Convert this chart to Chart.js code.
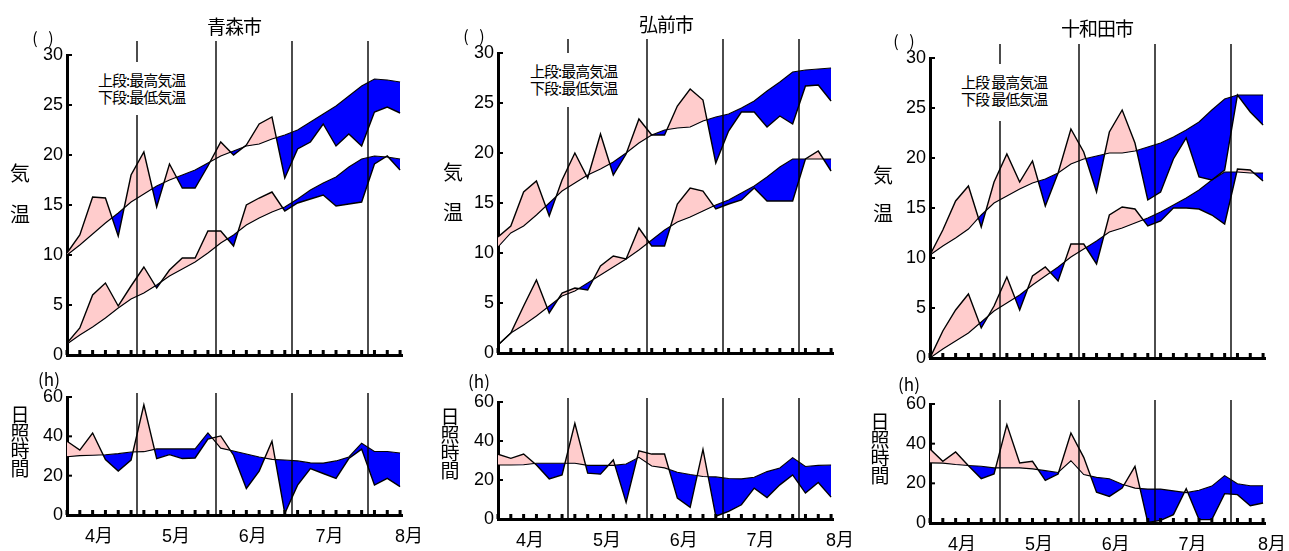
<!DOCTYPE html>
<html>
<head>
<meta charset="utf-8">
<script src="https://cdn.jsdelivr.net/npm/chart.js@4.4.0/dist/chart.umd.min.js"></script>
<style>
body { margin: 0; background: #fff; width: 1289px; height: 551px; position: relative; overflow: hidden; font-family: "Liberation Sans", "Noto Sans CJK JP", sans-serif; }
canvas { position: absolute; z-index: 1; }
.t { position: absolute; z-index: 2; white-space: nowrap; color: #000; transform: translate(-50%, -50%); font-family: "Noto Sans CJK JP", sans-serif; line-height: 1; }
.lg { position: absolute; z-index: 2; color: #000; background: #fff; font-family: "Noto Sans CJK JP", sans-serif; font-size: 15px; letter-spacing: -1px; line-height: 17px; padding-top: 9px; }
.vt { position: absolute; z-index: 2; color: #000; font-family: "Noto Sans CJK JP", sans-serif; font-size: 19px; line-height: 18px; width: 20px; text-align: center; transform: translateX(-50%); }
</style>
</head>
<body>

<canvas id="t1"></canvas>
<canvas id="s1"></canvas>
<canvas id="t2"></canvas>
<canvas id="s2"></canvas>
<canvas id="t3"></canvas>
<canvas id="s3"></canvas>

<div class="t" style="left:234px;top:25px;font-size:19px;letter-spacing:-1px">青森市</div>
<div class="t" style="left:666px;top:23px;font-size:19px;letter-spacing:-1px">弘前市</div>
<div class="t" style="left:1097px;top:27px;font-size:19px;letter-spacing:-1px">十和田市</div>

<div class="t" style="left:43px;top:37px;font-size:16px">(&nbsp;&nbsp;&nbsp;)</div>
<div class="t" style="left:474px;top:35px;font-size:16px">(&nbsp;&nbsp;&nbsp;)</div>
<div class="t" style="left:904px;top:40px;font-size:16px">(&nbsp;&nbsp;&nbsp;)</div>

<div class="t" style="left:20px;top:173px;font-size:20px">気</div>
<div class="t" style="left:20px;top:214px;font-size:20px">温</div>
<div class="t" style="left:453px;top:172px;font-size:20px">気</div>
<div class="t" style="left:453px;top:212px;font-size:20px">温</div>
<div class="t" style="left:883px;top:175px;font-size:20px">気</div>
<div class="t" style="left:883px;top:213px;font-size:20px">温</div>

<div class="t" style="left:49px;top:378px;font-size:17px">(h)</div>
<div class="t" style="left:479px;top:380px;font-size:17px">(h)</div>
<div class="t" style="left:909px;top:383px;font-size:17px">(h)</div>

<div class="vt" style="left:20px;top:405px">日<br>照<br>時<br>間</div>
<div class="vt" style="left:450px;top:407px">日<br>照<br>時<br>間</div>
<div class="vt" style="left:880px;top:412px">日<br>照<br>時<br>間</div>

<div class="lg" style="left:98px;top:62px;height:44px;width:96px">上段:最高気温<br>下段:最低気温</div>
<div class="lg" style="left:530px;top:53px;height:45px;width:96px">上段:最高気温<br>下段:最低気温</div>
<div class="lg" style="left:961px;top:64px;height:48px;width:96px">上段 最高気温<br>下段 最低気温</div>

<script>
// 半旬ごとの値 (4月1半旬 〜 8月3半旬)
const monthLabels = ['4月', '5月', '6月', '7月', '8月'];
const monthTickPos = [2.5, 8.5, 14.5, 20.5, 26.7];
const monthEdges = [5.5, 11.6, 17.6, 23.5];

// 青森市
const aomoriMaxNormal = [10.0, 11.0, 12.1, 13.2, 14.2, 15.3, 16.1, 16.9, 17.5, 18.0, 18.5, 19.2, 19.9, 20.4, 20.9, 21.1, 21.6, 22.0, 22.5, 23.3, 24.1, 24.9, 25.9, 26.9, 27.6, 27.5, 27.3];
const aomoriMaxActual = [10.2, 12.0, 15.8, 15.7, 11.9, 18.0, 20.3, 14.8, 19.1, 16.7, 16.7, 18.9, 21.3, 20.0, 21.0, 23.1, 23.8, 17.7, 20.6, 21.3, 23.1, 20.9, 22.1, 20.9, 24.3, 24.8, 24.2];
const aomoriMinNormal = [1.1, 2.0, 2.8, 3.7, 4.7, 5.6, 6.2, 7.0, 7.9, 8.6, 9.3, 10.2, 11.2, 12.0, 13.0, 13.7, 14.3, 14.8, 15.6, 16.5, 17.2, 17.8, 18.8, 19.6, 19.9, 19.8, 19.6];
const aomoriMinActual = [1.2, 2.7, 6.0, 7.2, 4.9, 6.9, 8.8, 6.7, 8.5, 9.7, 9.7, 12.4, 12.4, 10.9, 15.0, 15.7, 16.3, 14.4, 15.2, 15.6, 16.0, 14.9, 15.1, 15.3, 19.1, 19.9, 18.5];
const aomoriSunNormal = [29.6, 30.2, 30.4, 30.6, 31.2, 32.0, 32.2, 33.6, 33.6, 33.6, 33.6, 41.8, 34.0, 32.5, 31.0, 29.5, 28.3, 28.0, 27.5, 26.5, 26.4, 27.5, 29.5, 36.5, 32.3, 32.3, 31.5];
const aomoriSunActual = [37.5, 33.0, 41.7, 28.2, 22.3, 27.9, 56.0, 28.7, 30.7, 28.7, 29.0, 38.6, 40.2, 30.4, 13.5, 22.3, 37.5, 0.8, 15.2, 23.6, 21.1, 18.6, 28.7, 33.5, 15.2, 18.6, 14.4];

// 弘前市
const hirosakiMaxNormal = [10.6, 12.0, 12.7, 13.8, 15.0, 16.2, 17.0, 17.8, 18.4, 19.1, 20.0, 21.0, 21.8, 22.3, 22.5, 22.6, 23.2, 23.6, 23.9, 24.5, 25.2, 26.2, 27.1, 28.1, 28.3, 28.4, 28.5];
const hirosakiMaxActual = [11.6, 12.7, 16.1, 17.2, 13.7, 17.3, 20.0, 17.5, 21.9, 17.8, 19.9, 23.4, 21.8, 21.8, 24.7, 26.4, 25.3, 19.0, 22.2, 24.1, 24.1, 22.6, 23.7, 22.9, 26.7, 26.8, 25.2];
const hirosakiMinNormal = [0.8, 2.0, 2.8, 3.7, 4.7, 5.7, 6.2, 7.0, 7.8, 8.6, 9.4, 10.3, 11.3, 12.3, 13.1, 13.6, 14.2, 14.8, 15.3, 16.0, 16.7, 17.6, 18.6, 19.4, 19.4, 19.4, 19.4];
const hirosakiMinActual = [0.8, 2.0, 4.7, 7.3, 4.0, 6.0, 6.5, 6.3, 8.7, 9.7, 9.4, 12.5, 10.7, 10.7, 14.9, 16.5, 16.2, 14.4, 14.9, 15.3, 16.5, 15.2, 15.2, 15.2, 19.4, 20.2, 18.2];
const hirosakiSunNormal = [27.7, 27.7, 27.8, 28.6, 28.6, 28.6, 28.6, 27.5, 27.5, 27.5, 28.2, 31.6, 27.2, 26.2, 24.0, 22.8, 21.8, 21.6, 20.8, 20.6, 21.4, 24.3, 26.2, 31.5, 26.9, 27.5, 27.7];
const hirosakiSunActual = [33.2, 31.1, 33.3, 27.7, 20.6, 22.6, 49.0, 23.5, 23.0, 30.3, 8.5, 35.0, 33.3, 33.3, 10.7, 6.0, 35.7, 1.4, 3.9, 7.3, 15.8, 11.0, 17.5, 22.6, 13.3, 18.7, 11.2];

// 十和田市
const towadaMaxNormal = [10.3, 11.2, 12.0, 12.9, 14.3, 15.5, 16.2, 16.9, 17.5, 17.9, 18.5, 19.4, 19.9, 20.2, 20.5, 20.5, 20.7, 21.1, 21.5, 22.1, 22.8, 23.6, 24.8, 25.9, 26.3, 26.3, 26.3];
const towadaMaxActual = [10.3, 12.8, 15.7, 17.2, 13.1, 17.6, 20.4, 17.6, 19.7, 15.2, 18.5, 22.9, 20.6, 16.6, 22.6, 24.8, 21.5, 15.8, 16.6, 19.9, 22.0, 18.1, 17.8, 18.8, 26.3, 24.6, 23.3];
const towadaMinNormal = [0.0, 0.9, 1.7, 2.5, 3.6, 4.7, 5.5, 6.3, 7.3, 8.2, 9.1, 10.1, 10.9, 11.7, 12.6, 13.0, 13.5, 14.0, 14.6, 15.3, 16.0, 16.8, 17.8, 18.6, 18.6, 18.5, 18.5];
const towadaMinActual = [0.0, 2.7, 4.8, 6.4, 3.0, 5.2, 8.1, 4.8, 8.2, 9.1, 7.7, 11.4, 11.4, 9.4, 14.3, 15.1, 14.9, 13.2, 13.7, 15.0, 15.0, 14.9, 14.3, 13.4, 18.9, 18.8, 17.7];
const towadaSunNormal = [30.3, 30.2, 29.5, 29.0, 28.6, 27.8, 27.8, 27.8, 27.3, 26.4, 25.5, 31.4, 24.4, 23.0, 22.3, 19.5, 17.6, 17.1, 17.1, 16.2, 15.3, 16.5, 18.6, 23.9, 19.8, 18.8, 18.8];
const towadaSunActual = [37.3, 31.1, 35.8, 28.9, 22.4, 24.7, 49.6, 30.3, 31.1, 21.5, 24.7, 45.4, 33.1, 15.5, 13.4, 17.6, 28.6, 0.3, 1.3, 4.2, 17.3, 1.7, 1.7, 14.8, 14.3, 8.7, 10.1];

const nPoints = aomoriMaxNormal.length;
const xMax = 26.15;
const plotW = 335;
const yAxisW = 50;
const padTop = 20;
const padRight = 30;

function pts(arr) {
    return arr.map((v, i) => ({ x: i, y: v }));
}

function normalDs(arr) {
    return { data: pts(arr), borderColor: '#000', borderWidth: 1.1, pointRadius: 0, tension: 0, fill: false };
}

function actualDs(arr, target) {
    return {
        data: pts(arr), borderColor: '#000', borderWidth: 1.4, pointRadius: 0, tension: 0,
        fill: { target: target, above: '#FFCCCC', below: '#0000FF' }
    };
}

// 月の区切り線・目盛り
const decoPlugin = {
    id: 'deco',
    afterDatasetsDraw(chart, args, opts) {
        const { ctx, chartArea: a, scales: { x, y } } = chart;
        ctx.save();
        ctx.strokeStyle = '#000';
        ctx.lineWidth = 1.4;
        monthEdges.forEach(v => {
            const px = Math.round(x.getPixelForValue(v));
            ctx.beginPath();
            ctx.moveTo(px, a.top - opts.lineTop);
            ctx.lineTo(px, a.bottom);
            ctx.stroke();
        });
        ctx.fillStyle = '#000';
        for (let i = 0; i < nPoints; i++) {
            const px = x.getPixelForValue(i);
            ctx.fillRect(px - 1.5, a.bottom - 5, 3, 5);
        }
        y.ticks.forEach(t => {
            const py = y.getPixelForValue(t.value);
            ctx.fillRect(a.left, py - 1, 5, 2);
        });
        ctx.restore();
    }
};

function makeChart(id, axisX, top, bottom, datasets, yMax, yStep, showMonths, lineTop) {
    const xH = showMonths ? 36 : 12;
    const cv = document.getElementById(id);
    const w = yAxisW + plotW + padRight;
    const h = bottom - top + padTop + xH;
    cv.width = w;
    cv.height = h;
    cv.style.left = (axisX - yAxisW) + 'px';
    cv.style.top = (top - padTop) + 'px';

    new Chart(cv.getContext('2d'), {
        type: 'line',
        data: { datasets: datasets },
        plugins: [decoPlugin],
        options: {
            responsive: false,
            animation: false,
            events: [],
            layout: { padding: { top: padTop, right: padRight, left: 0, bottom: 0 } },
            plugins: {
                legend: { display: false },
                tooltip: { enabled: false },
                filler: { drawTime: 'beforeDatasetsDraw', propagate: false },
                deco: { lineTop: lineTop }
            },
            scales: {
                x: {
                    type: 'linear', min: 0, max: xMax,
                    grid: { display: false, drawTicks: false },
                    border: { display: true, width: 3, color: '#000' },
                    ticks: {
                        display: showMonths, autoSkip: false, maxRotation: 0, padding: 11, color: '#000',
                        font: { size: 18, family: '"Liberation Sans", "Noto Sans CJK JP", sans-serif' },
                        callback: (v) => {
                            const k = monthTickPos.indexOf(v);
                            return k >= 0 ? monthLabels[k] : '';
                        }
                    },
                    afterBuildTicks: (s) => { s.ticks = monthTickPos.map(v => ({ value: v })); },
                    afterFit: (s) => { s.height = xH; s.paddingLeft = 0; s.paddingRight = 0; }
                },
                y: {
                    min: 0, max: yMax,
                    grid: { display: false, drawTicks: false },
                    border: { display: true, width: 3, color: '#000' },
                    ticks: {
                        stepSize: yStep, padding: 4, color: '#000',
                        font: { size: 18, family: '"Liberation Sans", sans-serif' }
                    },
                    afterFit: (s) => { s.width = yAxisW; s.paddingTop = 0; s.paddingBottom = 0; }
                }
            }
        }
    });
}

function tempSets(maxN, maxA, minN, minA) {
    return [normalDs(maxN), actualDs(maxA, 0), normalDs(minN), actualDs(minA, 2)];
}

function sunSets(sunN, sunA) {
    return [normalDs(sunN), actualDs(sunA, 0)];
}

makeChart('t1', 67, 55, 355, tempSets(aomoriMaxNormal, aomoriMaxActual, aomoriMinNormal, aomoriMinActual), 30, 5, false, 14);
makeChart('s1', 67, 397, 515, sunSets(aomoriSunNormal, aomoriSunActual), 60, 20, true, 4);
makeChart('t2', 498, 53, 353, tempSets(hirosakiMaxNormal, hirosakiMaxActual, hirosakiMinNormal, hirosakiMinActual), 30, 5, false, 14);
makeChart('s2', 498, 402, 519, sunSets(hirosakiSunNormal, hirosakiSunActual), 60, 20, true, 4);
makeChart('t3', 930, 58, 358, tempSets(towadaMaxNormal, towadaMaxActual, towadaMinNormal, towadaMinActual), 30, 5, false, 14);
makeChart('s3', 930, 404, 523, sunSets(towadaSunNormal, towadaSunActual), 60, 20, true, 4);
</script>
</body>
</html>
